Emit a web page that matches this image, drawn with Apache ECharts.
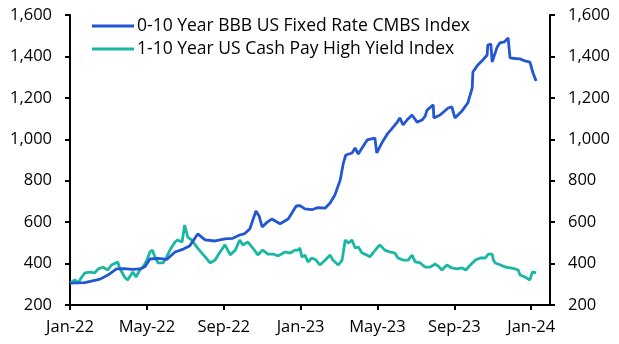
<!DOCTYPE html>
<html><head><meta charset="utf-8">
<script src="https://cdn.jsdelivr.net/npm/echarts@6/dist/echarts.min.js"></script>
<style>html,body{margin:0;padding:0;background:#fff}#c{width:619px;height:344px}</style>
</head><body><div id="c"></div>
<script>
const seriesNames = ['0-10 Year BBB US Fixed Rate CMBS Index', '1-10 Year US Cash Pay High Yield Index'];
const xTickLabels = ['Jan-22','May-22','Sep-22','Jan-23','May-23','Sep-23','Jan-24'];
const yTicks = [200,400,600,800,1000,1200,1400,1600];

const cmbsDates = ['2022-01-01','2022-01-25','2022-02-17','2022-03-03','2022-03-14','2022-03-27','2022-04-08','2022-04-20','2022-04-28','2022-05-06','2022-05-19','2022-06-02','2022-06-15','2022-06-28','2022-07-08','2022-07-21','2022-08-02','2022-08-18','2022-09-03','2022-09-15','2022-09-26','2022-10-04','2022-10-12','2022-10-22','2022-10-27','2022-11-01','2022-11-09','2022-11-16','2022-11-29','2022-12-12','2022-12-25','2022-12-31','2023-01-08','2023-01-19','2023-01-29','2023-02-09','2023-02-16','2023-02-23','2023-03-03','2023-03-08','2023-03-12','2023-03-22','2023-03-27','2023-04-01','2023-04-07','2023-04-15','2023-04-27','2023-04-30','2023-05-08','2023-05-18','2023-05-24','2023-06-02','2023-06-06','2023-06-11','2023-06-17','2023-06-25','2023-07-03','2023-07-11','2023-07-16','2023-07-19','2023-07-29','2023-07-30','2023-08-09','2023-08-22','2023-08-28','2023-09-02','2023-09-13','2023-09-22','2023-09-29','2023-09-30','2023-10-08','2023-10-16','2023-10-23','2023-10-24','2023-10-29','2023-10-31','2023-11-08','2023-11-12','2023-11-19','2023-11-25','2023-11-28','2023-12-06','2023-12-14','2023-12-22','2023-12-30','2024-01-04','2024-01-09'];
const cmbsValues = [306,308,325,350,374,376,372,374,385,422,425,420,456,470,485,543,514,509,519,522,538,545,567,654,630,577,600,615,592,615,678,680,664,660,670,668,692,731,804,885,924,934,958,929,958,997,1006,934,982,1030,1050,1083,1103,1069,1093,1117,1083,1093,1112,1141,1166,1103,1117,1151,1156,1103,1137,1175,1248,1325,1359,1383,1407,1455,1460,1373,1446,1465,1470,1489,1393,1390,1388,1378,1373,1320,1281];

const hyDates = ['2022-01-01','2022-01-09','2022-01-14','2022-01-20','2022-01-25','2022-02-02','2022-02-09','2022-02-14','2022-02-21','2022-02-28','2022-03-06','2022-03-16','2022-03-19','2022-03-27','2022-04-01','2022-04-09','2022-04-14','2022-04-20','2022-04-25','2022-05-01','2022-05-06','2022-05-10','2022-05-14','2022-05-19','2022-05-27','2022-06-02','2022-06-07','2022-06-15','2022-06-19','2022-06-26','2022-06-30','2022-07-05','2022-07-11','2022-07-21','2022-08-02','2022-08-10','2022-08-18','2022-08-26','2022-09-03','2022-09-11','2022-09-19','2022-09-26','2022-10-01','2022-10-09','2022-10-17','2022-10-25','2022-11-02','2022-11-10','2022-11-18','2022-11-26','2022-12-07','2022-12-15','2022-12-23','2022-12-28','2022-12-31','2023-01-03','2023-01-08','2023-01-13','2023-01-19','2023-01-26','2023-02-01','2023-02-09','2023-02-16','2023-02-20','2023-02-28','2023-03-06','2023-03-11','2023-03-16','2023-03-22','2023-03-27','2023-04-01','2023-04-07','2023-04-15','2023-04-19','2023-04-24','2023-04-30','2023-05-05','2023-05-13','2023-05-21','2023-05-29','2023-06-03','2023-06-11','2023-06-19','2023-06-25','2023-06-30','2023-07-08','2023-07-16','2023-07-24','2023-08-01','2023-08-06','2023-08-12','2023-08-20','2023-08-28','2023-09-05','2023-09-13','2023-09-19','2023-09-26','2023-10-04','2023-10-12','2023-10-20','2023-10-25','2023-10-31','2023-11-02','2023-11-05','2023-11-13','2023-11-21','2023-11-29','2023-12-06','2023-12-11','2023-12-14','2023-12-22','2023-12-30','2024-01-03','2024-01-09'];
const hyValues = [306,321,306,335,355,359,355,374,383,369,393,408,379,335,321,359,335,369,383,417,456,465,432,403,403,432,465,504,514,504,586,528,514,475,432,403,417,456,490,442,465,514,490,504,475,442,465,446,446,437,456,451,465,465,475,432,441,408,427,417,393,417,441,417,393,417,514,499,514,475,480,451,441,432,451,475,490,465,456,451,427,417,417,441,408,403,383,383,398,388,369,393,379,374,379,369,393,417,427,427,446,446,417,403,393,383,379,374,369,345,335,321,360,355];

function mIdx(s){
  const p = s.split('-').map(Number);
  const dim = new Date(p[0], p[1], 0).getDate();
  return (p[0]-2022)*12 + (p[1]-1) + (p[2]-1)/dim;
}
const toPairs = (ds, vs) => ds.map((d,i)=>[mIdx(d), vs[i]]);
const tickIdx = xTickLabels.map((_,i)=>i*4);

const FONT = 'Open Sans';
const AXF = 16.5;
const blue = '#2356d3', teal = '#19b7a4';
const yAxisCommon = {
  type:'value', min:yTicks[0], max:yTicks[yTicks.length-1], interval:200,
  axisLine:{show:true, lineStyle:{color:'#000', width:2}},
  axisTick:{show:true, length:5, lineStyle:{color:'#000', width:2}},
  splitLine:{show:false},
  axisLabel:{color:'#000', fontFamily:FONT, fontSize:AXF, margin:18,
    formatter:v=>v.toLocaleString('en-US')}
};
const chart = echarts.init(document.getElementById('c'), null, {renderer:'canvas'});
chart.setOption({
  animation:false,
  grid:{left:70, right:69, top:15, bottom:39, containLabel:false},
  legend:{
    orient:'vertical', left:87, top:12, itemWidth:42, itemHeight:3, itemGap:5,
    icon:'rect', textStyle:{color:'#000', fontFamily:FONT, fontSize:17.5, padding:[0,0,0,-2]},
    data:seriesNames
  },
  xAxis:{
    type:'value', min:0, max:24.98,
    axisLine:{show:true, onZero:false, lineStyle:{color:'#000', width:2}},
    axisTick:{show:true, length:5, customValues:tickIdx, lineStyle:{color:'#000', width:2}},
    splitLine:{show:false},
    axisLabel:{customValues:tickIdx, color:'#000', fontFamily:FONT, fontSize:AXF, margin:14,
      formatter:v=>xTickLabels[Math.round(v/4)]}
  },
  yAxis:[
    Object.assign({position:'left'}, yAxisCommon),
    Object.assign({position:'right'}, yAxisCommon)
  ],
  series:[
    {name:seriesNames[0], type:'line', yAxisIndex:0, data:toPairs(cmbsDates, cmbsValues),
     showSymbol:false, color:blue, lineStyle:{color:blue, width:2.8}, z:3},
    {name:seriesNames[1], type:'line', yAxisIndex:0, data:toPairs(hyDates, hyValues),
     showSymbol:false, color:teal, lineStyle:{color:teal, width:2.8}, z:2}
  ]
});
</script></body></html>
